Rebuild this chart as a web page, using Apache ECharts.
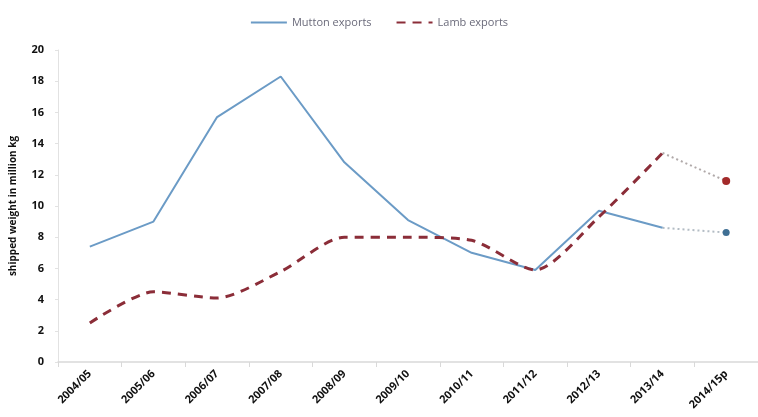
<!DOCTYPE html>
<html>
<head>
<meta charset="utf-8">
<script src="https://cdn.jsdelivr.net/npm/echarts@6/dist/echarts.min.js"></script>
<style>
  html, body { margin: 0; padding: 0; background: #fff; }
  #chart { width: 758px; height: 417px; }
</style>
</head>
<body>
<div id="chart"></div>
<script>
// Seasons on the x axis (p = provisional)
const seasons = ['2004/05', '2005/06', '2006/07', '2007/08', '2008/09', '2009/10',
                 '2010/11', '2011/12', '2012/13', '2013/14', '2014/15p'];
// Shipped weight, million kg
const muttonExports = [7.4, 9.0, 15.7, 18.3, 12.8, 9.1, 7.0, 5.9, 9.7, 8.6, 8.3];
const lambExports   = [2.5, 4.5, 4.1, 5.8, 8.0, 8.0, 7.8, 5.9, 9.3, 13.4, 11.6];
const yTicks = { min: 0, max: 20, step: 2 };

// Confirmed seasons end at the second-last point; the last step is provisional
const lastFirm = seasons.length - 2;
const firmPart = arr => arr.map((v, i) => (i <= lastFirm ? v : null));
const provPart = arr => arr.map((v, i) => (i >= lastFirm ? v : null));

const muttonColor = '#6b9bc6';
const lambColor = '#8b2d38';

const chart = echarts.init(document.getElementById('chart'));
chart.setOption({
  animation: false,
  backgroundColor: '#fff',
  textStyle: { fontFamily: 'Open Sans, Liberation Sans, sans-serif' },
  legend: {
    top: 12,
    left: 'center',
    itemWidth: 36,
    itemHeight: 10,
    itemGap: 24,
    textStyle: { color: '#6a6a7a', fontSize: 11 },
    data: [
      { name: 'Mutton exports', itemStyle: { opacity: 0 } },
      { name: 'Lamb exports', itemStyle: { opacity: 0 } }
    ]
  },
  grid: { left: 58, right: 0, top: 50, bottom: 55 },
  xAxis: {
    type: 'category',
    data: seasons,
    boundaryGap: true,
    axisLine: { lineStyle: { color: '#d9d9d9', width: 1.5 } },
    axisTick: { show: true, alignWithLabel: false, lineStyle: { color: '#d9d9d9' } },
    axisLabel: { rotate: 45, color: '#111', fontWeight: 'bold', fontSize: 11, margin: 10 }
  },
  yAxis: {
    type: 'value',
    min: yTicks.min,
    max: yTicks.max,
    interval: yTicks.step,
    name: 'shipped weight in million kg',
    nameLocation: 'middle',
    nameGap: 40,
    nameTextStyle: { color: '#111', fontWeight: 'bold', fontSize: 10 },
    axisLine: { show: true, lineStyle: { color: '#e2e2e2' } },
    axisTick: { show: true, length: 3, lineStyle: { color: '#e2e2e2' } },
    splitLine: { show: false },
    axisLabel: { color: '#111', fontWeight: 'bold', fontSize: 11, margin: 14 }
  },
  series: [
    {
      name: 'Mutton exports',
      type: 'line',
      data: firmPart(muttonExports),
      showSymbol: false,
      symbol: 'none',
      lineStyle: { color: muttonColor, width: 2 },
      itemStyle: { color: muttonColor },
      z: 3
    },
    {
      name: 'Lamb exports',
      type: 'line',
      data: firmPart(lambExports),
      smooth: 0.25,
      showSymbol: false,
      symbol: 'none',
      lineStyle: { color: lambColor, width: 3, type: [9, 7] },
      itemStyle: { color: lambColor },
      z: 4
    },
    {
      name: 'Mutton provisional',
      type: 'line',
      data: provPart(muttonExports),
      symbol: (v, p) => (p.dataIndex === seasons.length - 1 ? 'circle' : 'none'),
      symbolSize: 7,
      lineStyle: { color: '#b3bcc4', width: 2, type: [2, 3] },
      itemStyle: { color: '#3f6f94' },
      z: 2
    },
    {
      name: 'Lamb provisional',
      type: 'line',
      data: provPart(lambExports),
      symbol: (v, p) => (p.dataIndex === seasons.length - 1 ? 'circle' : 'none'),
      symbolSize: 8,
      lineStyle: { color: '#b0a9a9', width: 2, type: [2, 3] },
      itemStyle: { color: '#a32a2a' },
      z: 2
    }
  ]
});
</script>
</body>
</html>
